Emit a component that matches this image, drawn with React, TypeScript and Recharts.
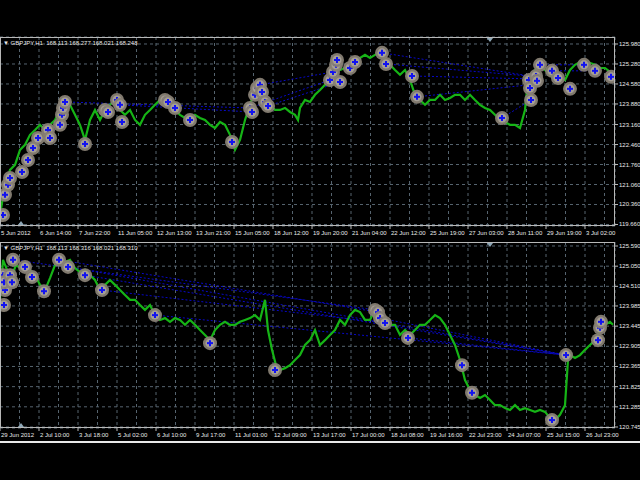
import { CartesianGrid, ComposedChart, Line, ReferenceLine, Scatter, XAxis, YAxis } from 'recharts';

// top panel: GBPJPY H1, 5 Jun – 3 Jul 2012
const topBars = [0, 5, 10, 15, 20, 25, 30, 35, 40, 45, 50, 55, 60, 65, 70, 75, 80, 85, 90, 95, 100, 105, 110, 115, 120, 125, 130, 135, 140, 145, 150, 155, 160, 165, 170, 175, 180, 185, 190, 195, 200, 205, 210, 215, 220, 225, 230, 235, 240, 245, 250, 255, 260, 265, 270, 275, 280, 285, 290, 295, 298, 300, 305, 310, 315, 320, 325, 330, 335, 340, 345, 350, 355, 360, 365, 370, 375, 380, 385, 390, 395, 400, 405, 410, 415, 420, 425, 430, 435, 440, 445, 450, 455, 460, 465, 470, 475, 480, 485, 490, 495, 500, 505, 510, 515, 520, 525, 528, 530, 535, 540, 545, 550, 555, 560, 565, 570, 575, 580, 585, 590, 595, 600, 605, 610, 613];
const topClose = [119.99, 121.05, 121.57, 121.75, 122.27, 122.45, 122.8, 122.97, 123.15, 122.97, 123.15, 123.32, 123.67, 124.02, 123.85, 123.5, 123.15, 122.62, 123.32, 123.67, 123.32, 123.67, 123.85, 124.02, 123.67, 123.5, 123.67, 123.32, 123.15, 123.5, 123.67, 123.85, 124.02, 124.02, 123.85, 123.67, 123.5, 123.39, 123.32, 123.5, 123.39, 123.32, 123.15, 123.04, 123.25, 123.15, 122.8, 122.27, 122.62, 123.32, 123.85, 124.37, 124.2, 124.02, 123.85, 123.67, 123.67, 123.74, 123.6, 123.5, 123.32, 123.74, 124.02, 123.95, 124.2, 124.37, 124.55, 124.9, 125.25, 125.07, 125.14, 125.25, 125.42, 125.49, 125.6, 125.49, 125.6, 125.7, 125.42, 125.25, 125.07, 124.9, 125.07, 124.72, 124.2, 124.02, 123.85, 124.02, 124.02, 124.2, 124.02, 124.09, 124.2, 124.2, 124.02, 124.2, 124.02, 123.85, 123.74, 123.67, 123.5, 123.32, 123.25, 123.15, 123.15, 123.04, 123.67, 124.72, 124.72, 125.07, 125.25, 125.07, 124.9, 124.72, 124.79, 124.72, 125.07, 125.25, 125.35, 125.25, 125.32, 125.25, 125.14, 125.14, 125.0, 124.93];
const topMarkBars = [3, 5, 8, 10, 22, 28, 33, 38, 48, 50, 60, 62, 63, 65, 85, 105, 108, 117, 120, 122, 165, 168, 175, 190, 232, 250, 252, 255, 257, 260, 262, 265, 268, 330, 333, 336, 337, 340, 350, 355, 382, 386, 412, 417, 502, 529, 530, 531, 536, 537, 540, 552, 558, 570, 584, 595, 611];
const topMarkPrices = [119.99, 120.7, 121.05, 121.29, 121.5, 121.92, 122.34, 122.69, 122.97, 122.69, 123.15, 123.5, 123.74, 123.95, 122.48, 123.67, 123.6, 124.02, 123.85, 123.25, 124.02, 123.95, 123.74, 123.32, 122.55, 123.74, 123.6, 124.2, 124.44, 124.55, 124.3, 123.95, 123.81, 124.72, 125.0, 125.25, 125.42, 124.65, 125.14, 125.35, 125.67, 125.28, 124.86, 124.13, 123.39, 124.72, 124.44, 124.02, 124.86, 124.69, 125.25, 125.04, 124.79, 124.41, 125.25, 125.04, 124.83];
const topLinks = [
  [65, 123.95, 250, 123.74],
  [120, 123.85, 252, 123.6],
  [250, 123.74, 330, 124.72],
  [260, 124.55, 333, 125.0],
  [268, 123.81, 340, 124.65],
  [382, 125.67, 530, 124.86],
  [386, 125.28, 529, 124.86],
  [412, 124.86, 529, 124.76],
  [417, 124.13, 529, 124.55],
  [502, 123.39, 531, 124.02],
  [540, 125.25, 584, 125.25],
  [552, 125.04, 595, 125.04],
];
const topPriceTicks = [119.66, 120.36, 121.06, 121.76, 122.46, 123.16, 123.88, 124.58, 125.28, 125.98];
const topTimeLabels = ['5 Jun 2012', '6 Jun 14:00', '7 Jun 22:00', '11 Jun 05:00', '12 Jun 13:00', '13 Jun 21:00', '15 Jun 05:00', '18 Jun 12:00', '19 Jun 20:00', '21 Jun 04:00', '22 Jun 12:00', '25 Jun 19:00', '27 Jun 03:00', '28 Jun 11:00', '29 Jun 19:00', '3 Jul 02:00'];

// bottom panel: GBPJPY H1, 29 Jun – 26 Jul 2012
const botBars = [0, 3, 8, 12, 16, 20, 25, 30, 35, 40, 45, 50, 55, 60, 65, 70, 75, 80, 85, 90, 95, 100, 105, 110, 115, 120, 125, 130, 135, 140, 145, 150, 155, 160, 165, 170, 175, 180, 185, 190, 195, 200, 205, 210, 215, 220, 225, 230, 235, 240, 245, 250, 255, 260, 265, 268, 272, 276, 280, 285, 290, 295, 300, 305, 310, 315, 320, 325, 330, 335, 340, 345, 350, 355, 360, 365, 370, 375, 380, 385, 390, 395, 400, 405, 410, 415, 420, 425, 430, 435, 440, 445, 450, 455, 460, 465, 470, 475, 480, 485, 490, 495, 500, 505, 510, 515, 520, 525, 530, 535, 540, 545, 550, 555, 560, 565, 568, 570, 575, 580, 585, 590, 595, 600, 605, 610, 613];
const botClose = [124.15, 125.22, 124.89, 124.81, 125.08, 125.0, 125.08, 124.95, 124.81, 124.55, 124.41, 124.73, 125.08, 125.27, 125.16, 125.22, 125.0, 124.89, 124.95, 124.81, 124.68, 124.41, 124.55, 124.68, 124.55, 124.41, 124.28, 124.15, 124.15, 124.01, 123.88, 124.01, 123.74, 123.61, 123.66, 123.56, 123.66, 123.61, 123.48, 123.61, 123.48, 123.34, 123.21, 123.07, 123.34, 123.48, 123.56, 123.48, 123.48, 123.56, 123.61, 123.66, 123.74, 123.61, 124.15, 123.34, 122.81, 122.4, 122.27, 122.32, 122.4, 122.54, 122.67, 122.94, 123.07, 123.34, 122.94, 123.07, 123.21, 123.34, 123.61, 123.48, 123.74, 123.88, 123.82, 123.61, 123.61, 123.88, 123.74, 123.66, 123.48, 123.48, 123.21, 123.34, 123.21, 123.34, 123.48, 123.48, 123.61, 123.74, 123.66, 123.48, 123.21, 122.94, 122.54, 122.0, 121.74, 121.6, 121.52, 121.6, 121.47, 121.33, 121.33, 121.25, 121.2, 121.33, 121.2, 121.25, 121.2, 121.15, 121.2, 121.15, 120.99, 120.93, 121.07, 121.33, 122.54, 122.67, 122.59, 122.67, 122.81, 122.94, 123.07, 123.34, 123.48, 123.56, 123.48];
const botMarkBars = [3, 4, 5, 4, 10, 12, 13, 25, 32, 44, 59, 68, 85, 102, 155, 210, 275, 375, 378, 380, 385, 408, 462, 472, 552, 566, 598, 600, 601];
const botMarkPrices = [124.81, 124.01, 124.41, 124.62, 124.81, 124.62, 125.22, 125.03, 124.76, 124.38, 125.22, 125.03, 124.81, 124.41, 123.74, 122.99, 122.27, 123.88, 123.82, 123.66, 123.53, 123.13, 122.4, 121.66, 120.93, 122.67, 123.07, 123.4, 123.56];
const botLinks = [
  [13, 125.22, 375, 123.88],
  [59, 125.22, 378, 123.82],
  [68, 125.03, 566, 122.67],
  [85, 124.81, 566, 122.67],
  [102, 124.41, 385, 123.53],
  [155, 123.74, 566, 122.67],
  [380, 123.66, 566, 122.67],
  [408, 123.13, 566, 122.67],
];
const botPriceTicks = [120.745, 121.285, 121.825, 122.365, 122.905, 123.445, 123.985, 124.51, 125.05, 125.59];
const botTimeLabels = ['29 Jun 2012', '2 Jul 10:00', '3 Jul 18:00', '5 Jul 02:00', '6 Jul 10:00', '9 Jul 17:00', '11 Jul 01:00', '12 Jul 09:00', '13 Jul 17:00', '17 Jul 00:00', '18 Jul 08:00', '19 Jul 16:00', '22 Jul 23:00', '24 Jul 07:00', '25 Jul 15:00', '26 Jul 23:00'];

// bar positions of the time grid (labels on every second line)
const gridBars = [0, 19.5, 39, 58.5, 78, 97.5, 117, 136.5, 156, 175.5, 195, 214.5, 234, 253.5, 273, 292.5, 312, 331.5, 351, 370.5, 390, 409.5, 429, 448.5, 468, 487.5, 507, 526.5, 546, 565.5, 585, 604.5];

const FONT = '"Liberation Sans", Arial, sans-serif';
const TEXT = '#e8e8e8';
const GRID = '#56646f';
const BORDER = '#b8b8b8';

function Marker(props: any) {
  const { cx, cy } = props;
  if (cx == null || cy == null) return null;
  return (
    <g>
      <circle cx={cx} cy={cy} r={7} fill="#877f74" fillOpacity={0.95} />
      <circle cx={cx} cy={cy} r={4.5} fill="#a59f96" />
      <line x1={cx - 3} x2={cx + 3} y1={cy} y2={cy} stroke="#1212f0" strokeWidth={2} />
      <line x1={cx} x2={cx} y1={cy - 3} y2={cy + 3} stroke="#1212f0" strokeWidth={2} />
    </g>
  );
}

function makeXTick(labels: string[]) {
  return (props: any) => {
    const { x, y, index } = props;
    if (index % 2 !== 0) return <g />;
    const label = labels[index / 2];
    return (
      <g>
        <line x1={x} x2={x} y1={y} y2={y + 3} stroke={BORDER} />
        <text x={x + 1} y={y + 9} fill={TEXT} fontSize={6} fontFamily={FONT} textAnchor="start">
          {label}
        </text>
      </g>
    );
  };
}

function YTick(props: any) {
  const { x, y, payload } = props;
  return (
    <g>
      <line x1={x} x2={x + 3} y1={y} y2={y} stroke={BORDER} />
      <text x={x + 4} y={y + 2} fill={TEXT} fontSize={6} fontFamily={FONT} textAnchor="start">
        {payload.value.toFixed(3)}
      </text>
    </g>
  );
}

interface PanelProps {
  bars: number[];
  close: number[];
  markBars: number[];
  markPrices: number[];
  links: number[][];
  priceTicks: number[];
  timeLabels: string[];
  domain: [number, number];
  top: number;
  marginTop: number;
  plotHeight: number;
  title: string;
}

function Panel(p: PanelProps) {
  const series = p.bars.map((x, i) => ({ x, price: p.close[i] }));
  const marks = p.markBars.map((x, i) => ({ x, price: p.markPrices[i] }));
  const height = p.marginTop + p.plotHeight + 16;
  return (
    <div style={{ position: 'absolute', left: 0, top: p.top, width: 640, height }}>
      <ComposedChart width={640} height={height} data={series} margin={{ top: p.marginTop, right: 0, bottom: 0, left: 0 }}>
        <CartesianGrid stroke={GRID} strokeDasharray="3 3" />
        <XAxis
          dataKey="x"
          type="number"
          domain={[0, 615]}
          ticks={gridBars}
          interval={0}
          height={16}
          axisLine={false}
          tickLine={false}
          tickSize={0}
          tickMargin={0}
          tick={makeXTick(p.timeLabels)}
          allowDataOverflow
        />
        <YAxis
          orientation="right"
          type="number"
          domain={p.domain}
          ticks={p.priceTicks}
          interval={0}
          width={25}
          axisLine={false}
          tickLine={false}
          tickSize={0}
          tickMargin={0}
          tick={<YTick />}
          allowDataOverflow
        />
        {p.links.map((l, i) => (
          <ReferenceLine
            key={i}
            segment={[{ x: l[0], y: l[1] }, { x: l[2], y: l[3] }]}
            stroke="#0808c8"
            strokeDasharray="2 2"
            ifOverflow="visible"
          />
        ))}
        <Line type="linear" dataKey="price" stroke="#16b416" strokeWidth={2.2} dot={false} isAnimationActive={false} />
        <Scatter data={marks} dataKey="price" shape={<Marker />} isAnimationActive={false} />
      </ComposedChart>
      <div
        style={{
          position: 'absolute',
          left: 0,
          top: p.marginTop,
          width: 615,
          height: p.plotHeight,
          boxSizing: 'border-box',
          border: `1px solid ${BORDER}`,
          pointerEvents: 'none',
        }}
      />
      <div
        style={{
          position: 'absolute',
          left: 3,
          top: p.marginTop + 2,
          color: TEXT,
          fontFamily: FONT,
          fontSize: 6,
          whiteSpace: 'pre',
          lineHeight: '8px',
        }}
      >
        {'\u25BC ' + p.title}
      </div>
      <div
        style={{
          position: 'absolute',
          left: 487,
          top: p.marginTop + 1,
          width: 0,
          height: 0,
          borderLeft: '3px solid transparent',
          borderRight: '3px solid transparent',
          borderTop: '4px solid #8fa8b8',
        }}
      />
      <div
        style={{
          position: 'absolute',
          left: 18,
          top: p.marginTop + p.plotHeight - 5,
          width: 0,
          height: 0,
          borderLeft: '3px solid transparent',
          borderRight: '3px solid transparent',
          borderBottom: '4px solid #8fa8b8',
        }}
      />
    </div>
  );
}

export default function App() {
  return (
    <div style={{ position: 'absolute', left: 0, top: 0, width: 640, height: 480, background: '#000', overflow: 'hidden' }}>
      <Panel
        bars={topBars}
        close={topClose}
        markBars={topMarkBars}
        markPrices={topMarkPrices}
        links={topLinks}
        priceTicks={topPriceTicks}
        timeLabels={topTimeLabels}
        domain={[119.607, 126.225]}
        top={0}
        marginTop={37}
        plotHeight={189}
        title="GBPJPY,H1  168.113 168.277 168.021 168.248"
      />
      <Panel
        bars={botBars}
        close={botClose}
        markBars={botMarkBars}
        markPrices={botMarkPrices}
        links={botLinks}
        priceTicks={botPriceTicks}
        timeLabels={botTimeLabels}
        domain={[120.718, 125.697]}
        top={242}
        marginTop={0}
        plotHeight={186}
        title="GBPJPY,H1  168.113 168.316 168.021 168.310"
      />
      <div style={{ position: 'absolute', left: 0, top: 441, width: 640, height: 2, background: '#e8e8e8' }} />
    </div>
  );
}
